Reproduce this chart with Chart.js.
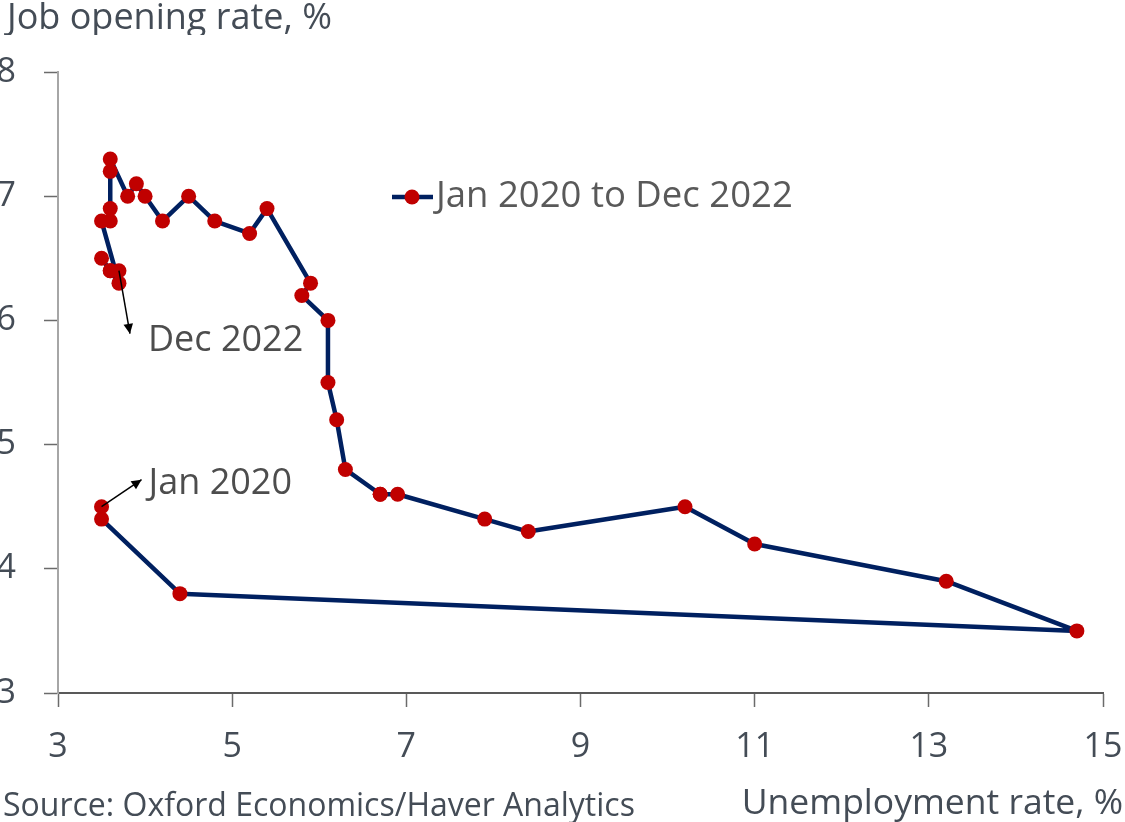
<!DOCTYPE html>
<html>
<head>
<meta charset="utf-8">
<script src="https://cdn.jsdelivr.net/npm/chart.js@4/dist/chart.umd.min.js"></script>
<style>
  html, body { margin: 0; padding: 0; background: #fff; }
  #wrap { width: 1125px; height: 822px; }
</style>
</head>
<body>
<div id="wrap"><canvas id="chart" width="1125" height="822"></canvas></div>
<script>
// Jan 2020 .. Dec 2022, monthly
const unemployment = [3.5, 3.5, 4.4, 14.7, 13.2, 11.0, 10.2, 8.4, 7.9, 6.9, 6.7, 6.7,
  6.3, 6.2, 6.1, 6.1, 5.8, 5.9, 5.4, 5.2, 4.8, 4.5, 4.2, 4.0,
  3.9, 3.8, 3.6, 3.6, 3.6, 3.6, 3.5, 3.7, 3.5, 3.6, 3.6, 3.7];
const jobOpenings = [4.5, 4.4, 3.8, 3.5, 3.9, 4.2, 4.5, 4.3, 4.4, 4.6, 4.6, 4.6,
  4.8, 5.2, 5.5, 6.0, 6.2, 6.3, 6.9, 6.7, 6.8, 7.0, 6.8, 7.0,
  7.1, 7.0, 7.3, 7.2, 6.9, 6.8, 6.8, 6.3, 6.5, 6.4, 6.4, 6.4];
const seriesName = 'Jan 2020 to Dec 2022';
const xTicks = [3, 5, 7, 9, 11, 13, 15];
const yTicks = [3, 4, 5, 6, 7, 8];
const notes = ['Jan 2020', 'Dec 2022'];
const noteIndex = [0, 35];

const FONT = "'Open Sans', sans-serif";
const NAVY = '#002060';
const RED = '#c00000';
const TXT = '#444c56';

const overlay = {
  id: 'overlay',
  afterDraw(chart) {
    const ctx = chart.ctx;
    const xs = chart.scales.x, ys = chart.scales.y;
    ctx.save();
    ctx.textBaseline = 'middle';

    // axis titles and source
    ctx.fillStyle = TXT;
    ctx.save();
    ctx.beginPath();
    ctx.rect(0, 0, 420, 35);
    ctx.clip();
    ctx.font = '36px ' + FONT;
    ctx.textAlign = 'left';
    ctx.fillText('Job opening rate, %', 7, 19);
    ctx.restore();
    ctx.font = '32px ' + FONT;
    ctx.textAlign = 'left';
    ctx.fillText('Source: Oxford Economics/Haver Analytics', 3, 807);
    ctx.font = '35.5px ' + FONT;
    ctx.textAlign = 'right';
    ctx.fillText('Unemployment rate, %', 1123, 804);

    // legend
    ctx.strokeStyle = NAVY;
    ctx.lineWidth = 4.5;
    ctx.beginPath();
    ctx.moveTo(392, 197);
    ctx.lineTo(433, 197);
    ctx.stroke();
    ctx.fillStyle = RED;
    ctx.beginPath();
    ctx.arc(412, 197, 7.5, 0, Math.PI * 2);
    ctx.fill();
    ctx.fillStyle = '#595959';
    ctx.font = '36.5px ' + FONT;
    ctx.textAlign = 'left';
    ctx.fillText(seriesName, 436, 197);

    // annotations with arrows
    const offs = [[40, -27], [11, 63]];
    const textOffs = [[47, -23], [29, 70]];
    notes.forEach((t, k) => {
      const i = noteIndex[k];
      const px = xs.getPixelForValue(unemployment[i]);
      const py = ys.getPixelForValue(jobOpenings[i]);
      const ex = px + offs[k][0], ey = py + offs[k][1];
      ctx.strokeStyle = '#000';
      ctx.lineWidth = 1.5;
      ctx.beginPath();
      ctx.moveTo(px, py);
      ctx.lineTo(ex, ey);
      ctx.stroke();
      const a = Math.atan2(ey - py, ex - px);
      ctx.fillStyle = '#000';
      ctx.beginPath();
      ctx.moveTo(ex, ey);
      ctx.lineTo(ex - 11 * Math.cos(a - 0.45), ey - 11 * Math.sin(a - 0.45));
      ctx.lineTo(ex - 11 * Math.cos(a + 0.45), ey - 11 * Math.sin(a + 0.45));
      ctx.closePath();
      ctx.fill();
      ctx.fillStyle = '#4d4d4d';
      ctx.font = '36px ' + FONT;
      ctx.textAlign = 'left';
      ctx.fillText(t, px + textOffs[k][0], py + textOffs[k][1]);
    });
    ctx.restore();
  }
};

new Chart(document.getElementById('chart'), {
  type: 'scatter',
  data: {
    datasets: [{
      label: seriesName,
      data: unemployment.map((u, i) => ({ x: u, y: jobOpenings[i] })),
      showLine: true,
      borderColor: NAVY,
      borderWidth: 4.5,
      borderJoinStyle: 'round',
      tension: 0,
      pointRadius: 7.5,
      pointBackgroundColor: RED,
      pointBorderWidth: 0,
      pointHoverRadius: 7.5,
      clip: false
    }]
  },
  options: {
    responsive: false,
    animation: false,
    devicePixelRatio: 1,
    layout: { padding: { top: 72, right: 22, bottom: 0, left: 0 } },
    plugins: {
      legend: { display: false },
      tooltip: { enabled: false }
    },
    scales: {
      x: {
        type: 'linear',
        min: 3, max: 15,
        afterBuildTicks: s => { s.ticks = xTicks.map(v => ({ value: v })); },
        afterFit: s => { s.height = 129; s.paddingLeft = 0; s.paddingRight = 0; },
        ticks: { color: TXT, font: { family: FONT, size: 34 }, padding: 20, maxRotation: 0 },
        grid: { drawOnChartArea: false, drawTicks: true, tickLength: 14, tickColor: '#6b6b6b', tickWidth: 1.5 },
        border: { color: '#595959', width: 2 }
      },
      y: {
        type: 'linear',
        min: 3, max: 8,
        afterBuildTicks: s => { s.ticks = yTicks.map(v => ({ value: v })); },
        afterFit: s => { s.width = 58; s.paddingTop = 0; s.paddingBottom = 0; },
        ticks: { color: TXT, font: { family: FONT, size: 34 }, padding: 28 },
        grid: { drawOnChartArea: false, drawTicks: true, tickLength: 14, tickColor: '#6b6b6b', tickWidth: 1.5 },
        border: { color: '#a6a6a6', width: 2 }
      }
    }
  },
  plugins: [overlay]
});
</script>
</body>
</html>
